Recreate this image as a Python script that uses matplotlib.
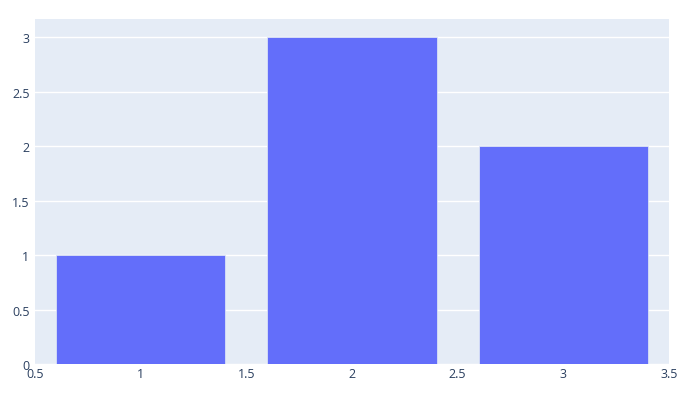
import matplotlib
matplotlib.use("Agg")
import matplotlib.pyplot as plt
from matplotlib.ticker import FuncFormatter

x = [1, 2, 3]
y = [1, 3, 2]
xticks = [0.5, 1, 1.5, 2, 2.5, 3, 3.5]
yticks = [0, 0.5, 1, 1.5, 2, 2.5, 3]

plt.rcParams['font.family'] = ['Open Sans', 'DejaVu Sans']

fig = plt.figure(figsize=(6.94, 4.02), dpi=100)
ax = fig.add_axes([35/694, 37/402, 634/694, 345/402])
ax.set_facecolor('#e5ecf6')
ax.bar(x, y, width=0.8, color='#636efa', edgecolor='#e5ecf6', linewidth=0.5, zorder=3)
ax.set_xlim(0.5, 3.5)
ax.set_ylim(0, 3 * 1.05556)
ax.set_xticks(xticks)
ax.set_yticks(yticks)
fmt = FuncFormatter(lambda v, p: ('%g' % v))
ax.xaxis.set_major_formatter(fmt)
ax.yaxis.set_major_formatter(fmt)
ax.grid(axis='y', color='white', linewidth=1, zorder=0)
ax.set_axisbelow(True)
for s in ax.spines.values():
    s.set_visible(False)
ax.tick_params(axis='both', length=0, labelsize=9, labelcolor='#2a3f5f')
ax.tick_params(axis='x', pad=2)
ax.tick_params(axis='y', pad=4)
fig.savefig('out.png', dpi=100)
